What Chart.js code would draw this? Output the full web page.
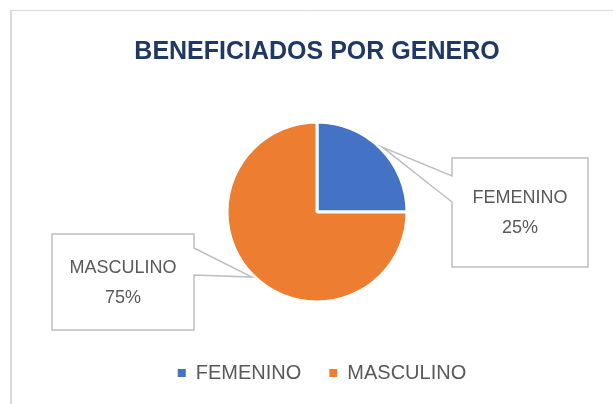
<!DOCTYPE html>
<html>
<head>
<meta charset="utf-8">
<script src="https://cdn.jsdelivr.net/npm/chart.js@4"></script>
<style>
  html, body { margin: 0; padding: 0; background: #ffffff; }
  #wrap { position: relative; width: 613px; height: 404px; }
</style>
</head>
<body>
<div id="wrap"><canvas id="c" width="613" height="404"></canvas></div>
<script>
// ---- data ----
const categories = ['FEMENINO', 'MASCULINO'];
const values = [25, 75];
const colors = ['#4472C4', '#ED7D31'];
const chartTitle = 'BENEFICIADOS POR GENERO';

// ---- layout of callout boxes (positions only) ----
const calloutBoxes = [
  { x: 452, y: 158, w: 136, h: 109, side: 'left',  p1: 176, p2: 202 },
  { x: 52,  y: 234, w: 142, h: 96,  side: 'right', p1: 248, p2: 275 }
];

const framePlugin = {
  id: 'frame',
  beforeDraw(chart) {
    const ctx = chart.ctx;
    ctx.save();
    ctx.fillStyle = '#ffffff';
    ctx.fillRect(0, 0, chart.width, chart.height);
    ctx.strokeStyle = '#d9d9d9';
    ctx.lineWidth = 2;
    ctx.beginPath();
    ctx.moveTo(11, 10);
    ctx.lineTo(11, chart.height);
    ctx.stroke();
    ctx.lineWidth = 1;
    ctx.beginPath();
    ctx.moveTo(10, 10.5);
    ctx.lineTo(chart.width, 10.5);
    ctx.stroke();
    ctx.restore();
  }
};

const legendShiftPlugin = {
  id: 'legendShift',
  afterLayout(chart) {
    if (chart.legend) {
      chart.legend.left += 5;
      chart.legend.right += 5;
    }
  }
};

const calloutPlugin = {
  id: 'callouts',
  afterDatasetsDraw(chart) {
    const ctx = chart.ctx;
    const meta = chart.getDatasetMeta(0);
    const data = chart.data.datasets[0].data;
    const total = data.reduce((a, b) => a + b, 0);
    meta.data.forEach((arc, i) => {
      const p = arc.getProps(['x', 'y', 'startAngle', 'endAngle', 'outerRadius'], true);
      const mid = (p.startAngle + p.endAngle) / 2;
      const ax = p.x + Math.cos(mid) * (p.outerRadius + 2);
      const ay = p.y + Math.sin(mid) * (p.outerRadius + 2);
      const b = calloutBoxes[i];
      ctx.save();
      ctx.beginPath();
      if (b.side === 'left') {
        ctx.moveTo(b.x, b.y);
        ctx.lineTo(b.x + b.w, b.y);
        ctx.lineTo(b.x + b.w, b.y + b.h);
        ctx.lineTo(b.x, b.y + b.h);
        ctx.lineTo(b.x, b.p2);
        ctx.lineTo(ax, ay);
        ctx.lineTo(b.x, b.p1);
      } else {
        ctx.moveTo(b.x, b.y);
        ctx.lineTo(b.x + b.w, b.y);
        ctx.lineTo(b.x + b.w, b.p1);
        ctx.lineTo(ax, ay);
        ctx.lineTo(b.x + b.w, b.p2);
        ctx.lineTo(b.x + b.w, b.y + b.h);
        ctx.lineTo(b.x, b.y + b.h);
      }
      ctx.closePath();
      ctx.fillStyle = '#ffffff';
      ctx.fill();
      ctx.strokeStyle = '#bfbfbf';
      ctx.lineWidth = 1.5;
      ctx.stroke();
      ctx.fillStyle = '#595959';
      ctx.font = '18px "Liberation Sans", Arial, sans-serif';
      ctx.textAlign = 'center';
      ctx.textBaseline = 'middle';
      const cx = b.x + b.w / 2;
      const cy = b.y + b.h / 2 + 1;
      const pct = Math.round(data[i] / total * 100) + '%';
      ctx.fillText(chart.data.labels[i], cx, cy - 15);
      ctx.fillText(pct, cx, cy + 15);
      ctx.restore();
    });
  }
};

new Chart(document.getElementById('c'), {
  type: 'pie',
  data: {
    labels: categories,
    datasets: [{
      data: values,
      backgroundColor: colors,
      borderColor: '#ffffff',
      borderWidth: 3,
      radius: 90
    }]
  },
  options: {
    responsive: false,
    animation: false,
    layout: { padding: { left: 21, right: 0, top: 0, bottom: 11 } },
    plugins: {
      title: {
        display: true,
        text: chartTitle,
        color: '#1f3864',
        font: { family: '"Liberation Sans", Arial, sans-serif', size: 25, weight: 'bold', lineHeight: 1.2 },
        padding: { top: 37, bottom: 22 }
      },
      legend: {
        position: 'bottom',
        labels: {
          color: '#595959',
          font: { family: '"Liberation Sans", Arial, sans-serif', size: 20 },
          boxWidth: 8,
          boxHeight: 8,
          padding: 28,
          generateLabels(chart) {
            const items = Chart.overrides.pie.plugins.legend.labels.generateLabels(chart);
            return items.map(it => Object.assign(it, { lineWidth: 0, strokeStyle: 'rgba(0,0,0,0)' }));
          }
        }
      },
      tooltip: { enabled: false }
    }
  },
  plugins: [framePlugin, legendShiftPlugin, calloutPlugin]
});
</script>
</body>
</html>
